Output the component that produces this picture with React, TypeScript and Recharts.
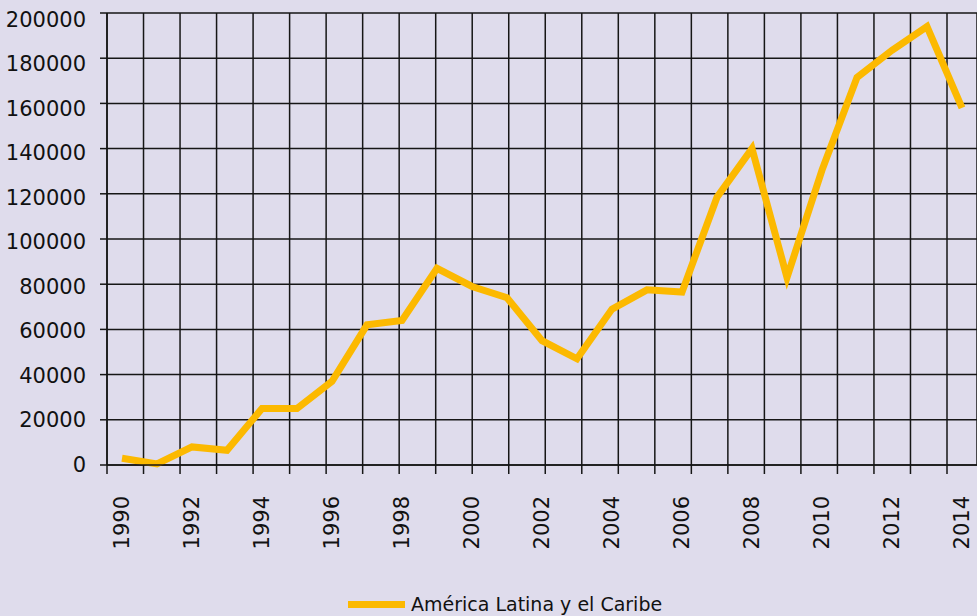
import { LineChart, Line, XAxis, YAxis, CartesianGrid, Legend } from "recharts";

const years = [
  1990, 1991, 1992, 1993, 1994, 1995, 1996, 1997, 1998, 1999, 2000, 2001, 2002,
  2003, 2004, 2005, 2006, 2007, 2008, 2009, 2010, 2011, 2012, 2013, 2014,
];

const latinAmerica = [
  3000, 500, 8000, 6500, 25000, 25000, 37000, 62000, 64000, 87000, 79000, 74000,
  55000, 47000, 69000, 77500, 76500, 118500, 140000, 83000, 130500, 171500,
  183500, 194000, 158000,
];

const yearTicks = [
  1990, 1992, 1994, 1996, 1998, 2000, 2002, 2004, 2006, 2008, 2010, 2012, 2014,
];
const valueTicks = [
  0, 20000, 40000, 60000, 80000, 100000, 120000, 140000, 160000, 180000, 200000,
];
const yMax = valueTicks[valueTicks.length - 1];

// the source draws 24 evenly spaced vertical grid lines over the year span
const firstYear = years[0];
const lastYear = years[years.length - 1];
const gridCount = 24;
const gridTicks = Array.from(
  { length: gridCount },
  (_, i) => firstYear + (i * (lastYear - firstYear)) / (gridCount - 1)
);

const seriesName = "América Latina y el Caribe";

const data = years.map((year, i) => ({ year, value: latinAmerica[i] }));

const FONT = "'DejaVu Sans', sans-serif";
const LINE_COLOR = "#fcb900";
const GRID_COLOR = "#161616";

const EmptyTick = () => <g />;

const YearTick = (props: any) => {
  const { x, y, payload } = props;
  const ty = y + 22;
  return (
    <text
      x={x}
      y={ty}
      transform={`rotate(-90, ${x}, ${ty})`}
      textAnchor="end"
      dominantBaseline="central"
      fontFamily={FONT}
      fontSize={21}
      fill="#111"
    >
      {payload.value}
    </text>
  );
};

// value labels in the source sit slightly lower than their grid lines near the top
const ValueTick = (props: any) => {
  const { x, y, payload } = props;
  const drift = (6.5 * payload.value) / yMax;
  return (
    <text
      x={x}
      y={y + drift}
      textAnchor="end"
      dominantBaseline="central"
      fontFamily={FONT}
      fontSize={21}
      fill="#111"
    >
      {payload.value}
    </text>
  );
};

const LegendContent = (props: any) => {
  const item = props.payload?.[0];
  return (
    <div
      style={{
        height: 24,
        display: "flex",
        alignItems: "center",
        paddingLeft: 348,
        fontFamily: FONT,
        fontSize: 19,
        color: "#111",
      }}
    >
      <span
        style={{
          display: "inline-block",
          width: 57,
          height: 7,
          background: LINE_COLOR,
          marginRight: 6,
        }}
      />
      {item ? item.value : seriesName}
    </div>
  );
};

export default function App() {
  return (
    <div style={{ width: 977, height: 616, background: "#dfdcec" }}>
      <style>{"body{margin:0}"}</style>
      <LineChart
        width={977}
        height={616}
        data={data}
        margin={{ top: 13, right: 0, left: 0, bottom: 0 }}
      >
        <CartesianGrid xAxisId="grid" stroke={GRID_COLOR} strokeWidth={1.5} />
        <XAxis
          xAxisId="grid"
          dataKey="year"
          type="number"
          domain={[firstYear, lastYear]}
          ticks={gridTicks}
          interval={0}
          padding={{ left: 0, right: 30 }}
          height={9}
          tickSize={9}
          tickMargin={0}
          tick={<EmptyTick />}
          tickLine={{ stroke: GRID_COLOR, strokeWidth: 1.5 }}
          axisLine={{ stroke: GRID_COLOR, strokeWidth: 1.5 }}
        />
        <XAxis
          xAxisId="years"
          dataKey="year"
          type="number"
          domain={[firstYear, lastYear]}
          ticks={yearTicks}
          interval={0}
          padding={{ left: 15, right: 15 }}
          height={118}
          tickSize={0}
          tickMargin={0}
          axisLine={false}
          tickLine={false}
          tick={<YearTick />}
        />
        <YAxis
          domain={[0, yMax]}
          ticks={valueTicks}
          interval={0}
          width={107}
          tickSize={7}
          tickMargin={14}
          tickLine={{ stroke: GRID_COLOR, strokeWidth: 1.5 }}
          axisLine={{ stroke: GRID_COLOR, strokeWidth: 1.5 }}
          tick={<ValueTick />}
        />
        <Legend verticalAlign="bottom" content={<LegendContent />} />
        <Line
          xAxisId="years"
          type="linear"
          dataKey="value"
          name={seriesName}
          stroke={LINE_COLOR}
          strokeWidth={7}
          strokeLinejoin="miter"
          dot={false}
          activeDot={false}
          isAnimationActive={false}
        />
      </LineChart>
    </div>
  );
}
